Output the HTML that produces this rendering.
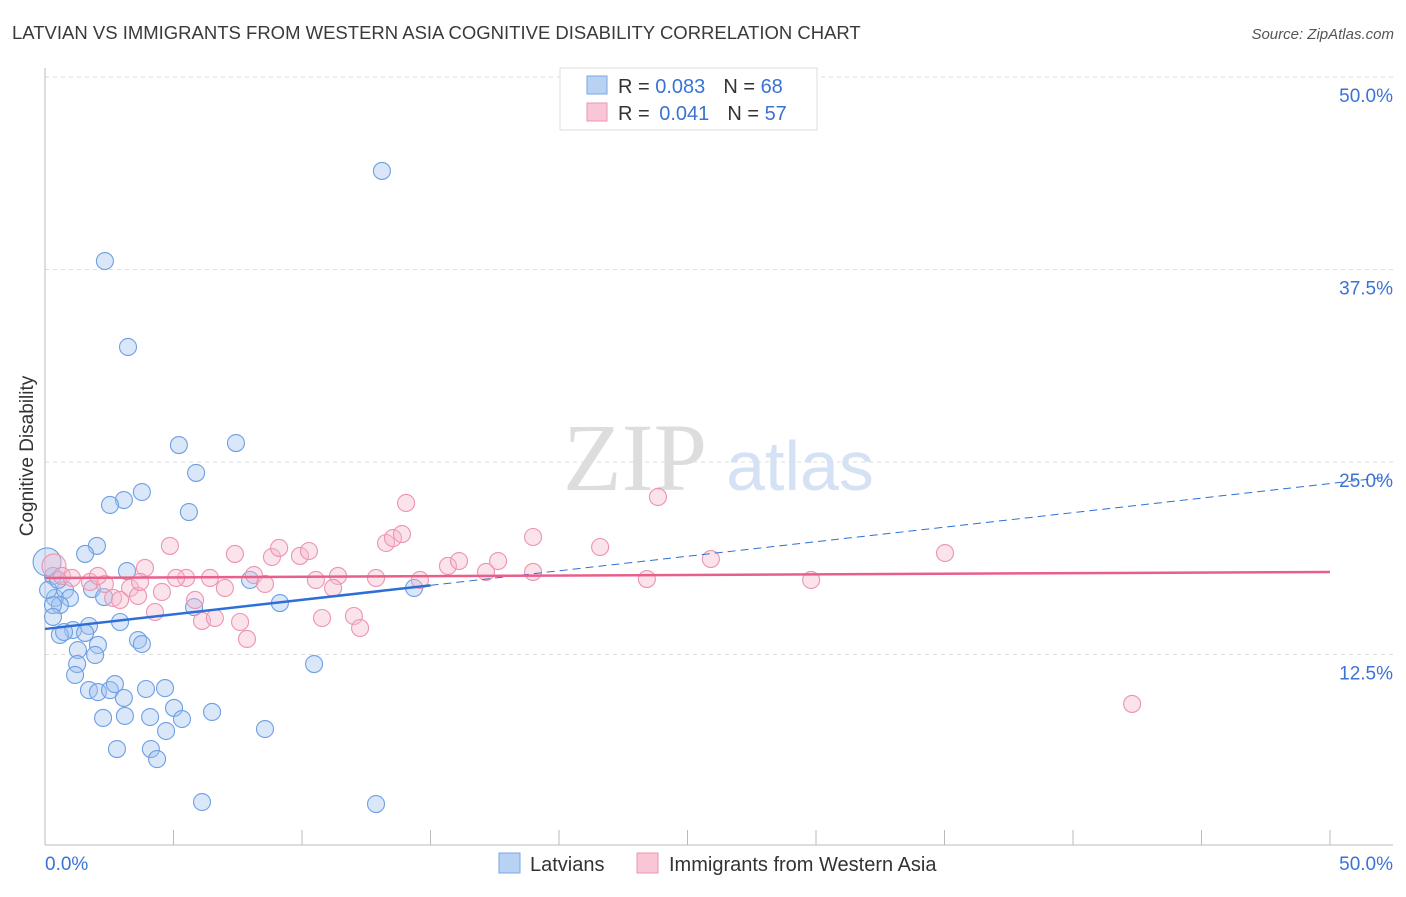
<!DOCTYPE html>
<html><head><meta charset="utf-8"><style>
body{margin:0;background:#fff;font-family:"Liberation Sans",sans-serif;}
</style></head><body>
<svg id="chart" width="1406" height="892" viewBox="0 0 1406 892">
<text x="12" y="39" font-size="18.5" fill="#3a3a3a">LATVIAN VS IMMIGRANTS FROM WESTERN ASIA COGNITIVE DISABILITY CORRELATION CHART</text>
<text x="1394" y="39" font-size="15" fill="#555" font-style="italic" text-anchor="end">Source: ZipAtlas.com</text>
<g>
<text x="635" y="490" font-size="96" fill="#ddd" text-anchor="middle" font-family="Liberation Serif,serif">ZIP</text>
<text x="800" y="490" font-size="70" fill="#d5e2f5" text-anchor="middle">atlas</text>
</g>
<g id="grid"></g>
<line x1="45" y1="68" x2="45" y2="845" stroke="#bbb"/>
<line x1="45" y1="845" x2="1393" y2="845" stroke="#bbb"/>
<text x="33" y="456" font-size="19" fill="#333" text-anchor="middle" transform="rotate(-90 33 456)">Cognitive Disability</text>
<text x="45" y="870" font-size="19" fill="#3b73d4">0.0%</text>
<text x="1393" y="870" font-size="19" fill="#3b73d4" text-anchor="end">50.0%</text>
<g id="points"></g>
<g id="lines"></g>
<g>
<rect x="560" y="68" width="257" height="62" fill="#fff" stroke="#ddd"/>
<rect x="587" y="76" width="20" height="18" fill="#b8d2f3" stroke="#7aa6e6"/>
<rect x="587" y="103" width="20" height="18" fill="#f8c6d5" stroke="#eb96b2"/>
<text x="618" y="93" font-size="20" fill="#333">R = <tspan fill="#3b73d4">0.083</tspan><tspan dx="18">N = </tspan><tspan fill="#3b73d4">68</tspan></text>
<text x="618" y="120" font-size="20" fill="#333">R = <tspan fill="#3b73d4" dx="4">0.041</tspan><tspan dx="18">N = </tspan><tspan fill="#3b73d4">57</tspan></text>
</g>
<g>
<rect x="499" y="853" width="21" height="20" fill="#b8d2f3" stroke="#7aa6e6"/>
<text x="530" y="871" font-size="20" fill="#333">Latvians</text>
<rect x="637" y="853" width="21" height="20" fill="#f8c6d5" stroke="#eb96b2"/>
<text x="669" y="871" font-size="20" fill="#333">Immigrants from Western Asia</text>
</g>
</svg>
<script>
const yTicks=[12.5,25,37.5,50];
const yTickLabels=["12.5%","25.0%","37.5%","50.0%"];
const xTicks=[5,10,15,20,25,30,35,40,45,50];
const latX=[13.11,2.33,3.23,5.21,7.43,5.88,3.77,3.07,2.53,5.60,2.02,1.56,3.19,7.98,0.31,0.08,0.39,0.78,0.97,1.83,2.30,0.58,0.31,5.80,9.14,14.36,2.92,1.71,1.09,0.58,1.56,0.74,2.06,1.28,1.95,3.62,3.77,1.25,1.17,10.47,1.71,2.06,2.53,2.72,3.07,3.93,4.67,5.02,6.50,2.26,3.11,4.09,5.33,4.71,8.56,2.80,4.12,4.36,6.11,12.88,0.31,0.12,0.51];
const latY=[43.90,38.05,32.47,26.10,26.23,24.29,23.05,22.53,22.21,21.75,19.55,19.03,17.92,17.34,17.60,18.51,16.17,16.69,16.17,16.75,16.23,15.71,15.71,15.58,15.84,16.82,14.61,14.35,14.09,13.77,13.90,13.96,13.12,12.79,12.47,13.44,13.18,11.88,11.17,11.88,10.19,10.06,10.19,10.58,9.68,10.26,10.32,9.03,8.77,8.38,8.51,8.44,8.31,7.53,7.66,6.36,6.36,5.71,2.92,2.79,14.94,16.69,17.34];
const immX=[0.35,0.66,1.05,1.75,2.33,3.31,3.89,4.86,5.49,5.10,6.42,7.39,8.13,8.83,9.11,9.92,10.27,10.54,11.40,12.88,13.27,13.54,13.89,14.05,14.59,15.68,16.11,17.16,17.63,18.99,18.99,21.60,23.42,23.85,25.91,29.81,35.02,42.30,2.65,2.92,3.62,4.28,4.55,5.84,6.11,6.61,7.00,7.59,7.86,8.56,10.78,11.21,12.02,12.26,3.70,2.06];
const immY=[18.25,17.60,17.47,17.21,17.08,16.82,18.12,19.55,17.47,17.47,17.47,19.03,17.66,18.83,19.42,18.90,19.22,17.34,17.60,17.47,19.74,20.06,20.32,22.34,17.34,18.25,18.57,17.86,18.57,20.13,17.86,19.48,17.40,22.73,18.70,17.34,19.09,9.29,16.17,16.04,16.30,15.26,16.56,16.04,14.68,14.87,16.82,14.61,13.51,17.08,14.87,16.82,15.00,14.22,17.21,17.60];
const latTrend=[14.16,23.6];
const immTrend=[17.47,17.86];
const NS="http://www.w3.org/2000/svg";
const sx=v=>45+v*25.7, sy=v=>847-v*15.4;
function mk(t,a,p){const e=document.createElementNS(NS,t);for(const k in a)e.setAttribute(k,a[k]);p.appendChild(e);return e;}
const grid=document.getElementById('grid');
yTicks.forEach((t,i)=>{
 const l=mk('line',{x1:45,x2:1393,y1:sy(t),y2:sy(t),stroke:'#ddd','stroke-dasharray':'4,4'},grid);
 
 
 const tx=mk('text',{x:1393,y:sy(t)+25,'font-size':19,fill:'#3b73d4','text-anchor':'end'},grid);
 tx.textContent=yTickLabels[i];
 
 
});
xTicks.forEach(t=>{
 const l=mk('line',{x1:sx(t),x2:sx(t),y1:830,y2:845,stroke:'#bbb'},grid);
 
 
});
const pts=document.getElementById('points');
latX.forEach((x,i)=>{
 const c=mk('circle',{cx:sx(x),cy:sy(latY[i]),r:i===15?14:8.5,fill:'rgba(160,196,240,0.4)',stroke:'#6e9fe4','stroke-width':1.1},pts);
 
 
});
immX.forEach((x,i)=>{
 const c=mk('circle',{cx:sx(x),cy:sy(immY[i]),r:i===0?12:8.5,fill:'rgba(246,184,204,0.4)',stroke:'#ec94b0','stroke-width':1.1},pts);
 
 
});
const ln=document.getElementById('lines');
const yAt=(tr,x)=>tr[0]+(tr[1]-tr[0])*x/50;
let a=mk('line',{x1:sx(0),y1:sy(latTrend[0]),x2:sx(15),y2:sy(yAt(latTrend,15)),stroke:'#2d6fd6','stroke-width':2.5},ln);


let b=mk('line',{x1:sx(15),y1:sy(yAt(latTrend,15)),x2:sx(52.3),y2:sy(yAt(latTrend,52.3)),stroke:'#2d6fd6','stroke-width':1,'stroke-dasharray':'8,5'},ln);


let c=mk('line',{x1:sx(0),y1:sy(immTrend[0]),x2:sx(50),y2:sy(immTrend[1]),stroke:'#e8608a','stroke-width':2.5},ln);


</script>
</body></html>
